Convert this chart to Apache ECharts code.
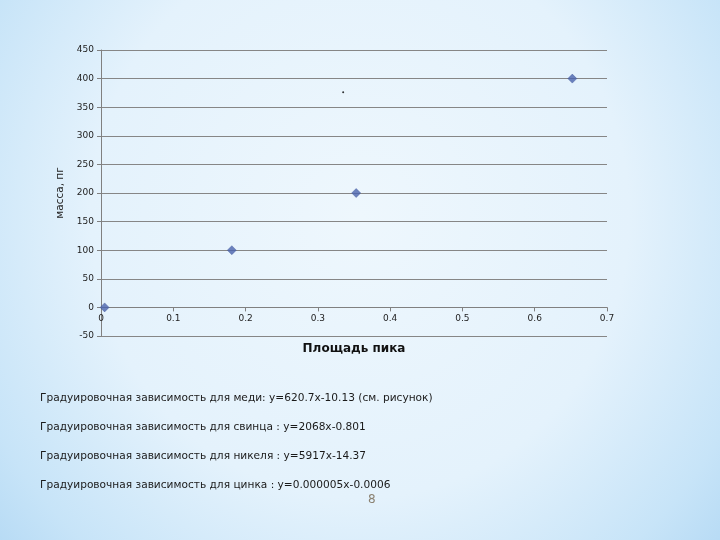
<!DOCTYPE html>
<html>
<head>
<meta charset="utf-8">
<script src="https://cdn.jsdelivr.net/npm/echarts@6/dist/echarts.min.js"></script>
<style>
  html, body { margin: 0; padding: 0; }
  body {
    width: 720px; height: 540px; overflow: hidden;
    background: radial-gradient(ellipse 68% 95% at 50% 40%, #eef7fd 0%, #e4f2fc 55%, #c7e4f8 85%, #b4d9f4 100%);
  }
  #chart { width: 720px; height: 540px; }
</style>
</head>
<body>
<div id="chart"></div>
<script>
// calibration points: peak area vs mass
const peakArea = [0.005, 0.181, 0.353, 0.652];
const massPg = [0, 100, 200, 400];
// stray small dot visible on the slide
const strayDot = [[0.335, 376]];

const notes = [
  'Градуировочная зависимость для меди: y=620.7x-10.13 (см. рисунок)',
  'Градуировочная зависимость для свинца : y=2068x-0.801',
  'Градуировочная зависимость для никеля : y=5917x-14.37',
  'Градуировочная зависимость для цинка : y=0.000005x-0.0006'
];
const noteY = [398, 427, 456, 485];

const chartDom = document.getElementById('chart');
const myChart = echarts.init(chartDom, null, { renderer: 'canvas' });

const labelFont = { fontFamily: 'DejaVu Sans', fontSize: 9, color: '#222' };

const option = {
  backgroundColor: 'transparent',
  animation: false,
  grid: { left: 101, right: 113, top: 50, bottom: 204 },
  xAxis: {
    type: 'value',
    min: 0,
    max: 0.7,
    interval: 0.1,
    name: 'Площадь пика',
    nameLocation: 'middle',
    nameGap: 7,
    nameMoveOverlap: false,
    nameTextStyle: { fontFamily: 'DejaVu Sans', fontSize: 12, fontWeight: 'bold', color: '#111' },
    axisLine: { onZero: true, lineStyle: { color: '#808080', width: 1 } },
    axisTick: { show: true, length: 4, lineStyle: { color: '#808080' } },
    axisLabel: { ...labelFont, margin: -22 },
    splitLine: { show: false }
  },
  yAxis: {
    type: 'value',
    min: -50,
    max: 450,
    interval: 50,
    name: 'масса, пг',
    nameLocation: 'middle',
    nameGap: 32,
    nameRotate: 90,
    nameTextStyle: { fontFamily: 'DejaVu Sans', fontSize: 10.5, color: '#222' },
    axisLine: { show: true, lineStyle: { color: '#808080', width: 1 } },
    axisTick: { show: true, length: 4, lineStyle: { color: '#808080' } },
    axisLabel: { ...labelFont, margin: 7 },
    splitLine: { show: true, lineStyle: { color: '#868686', width: 1 } }
  },
  series: [
    {
      name: 'масса',
      type: 'scatter',
      symbol: 'diamond',
      symbolSize: 9,
      itemStyle: { color: '#4a63ad', borderColor: '#3a4f95', borderWidth: 0.5 },
      data: peakArea.map((x, i) => [x, massPg[i]])
    },
    {
      name: 'dot',
      type: 'scatter',
      symbol: 'circle',
      symbolSize: 2,
      itemStyle: { color: '#000' },
      data: strayDot
    }
  ],
  graphic: [
    ...notes.map((t, i) => ({
      type: 'text',
      left: 40,
      top: noteY[i] - 5,
      style: { text: t, font: '10.6px "DejaVu Sans"', fill: '#1a1a1a' }
    })),
    {
      type: 'text',
      left: 368,
      top: 494,
      style: { text: '8', font: '12px "DejaVu Sans"', fill: '#8a8070' }
    }
  ]
};

myChart.setOption(option);
window.addEventListener('resize', () => myChart.resize());
</script>
</body>
</html>
